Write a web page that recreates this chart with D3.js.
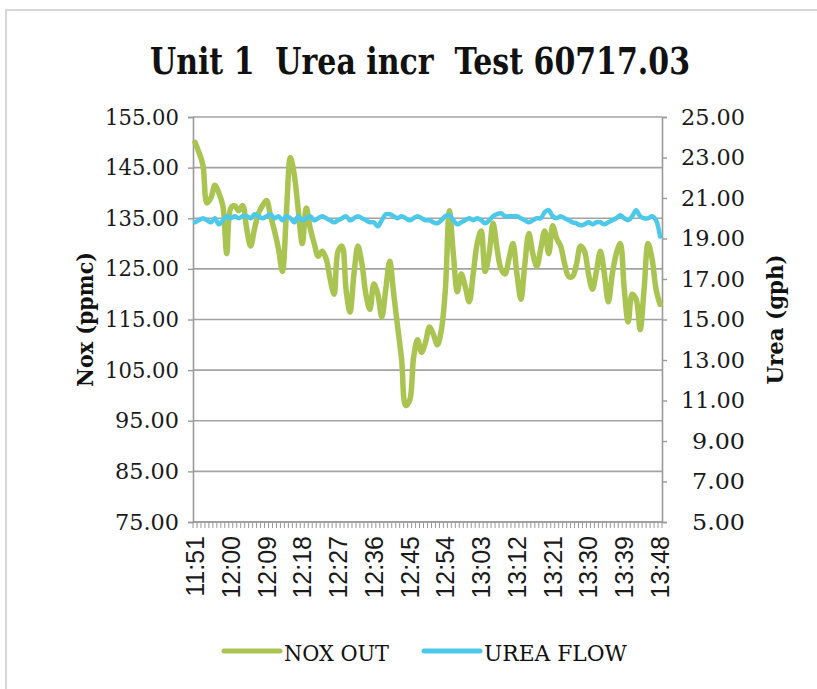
<!DOCTYPE html>
<html lang="en">
<head>
<meta charset="utf-8">
<title>Unit 1 Urea incr Test 60717.03</title>
<script src="https://cdn.jsdelivr.net/npm/d3@7"></script>
<style>
body{margin:0;background:#fff;}
</style>
</head>
<body>
<script>
// data, one point per minute 11:51 .. 13:48
var startMinute = 11*60+51;
var minutes = d3.range(118).map(function(i){
  var m = startMinute + i;
  return Math.floor(m/60) + ":" + d3.format("02d")(m%60);
});
var tickLabels = ["11:51","12:00","12:09","12:18","12:27","12:36","12:45","12:54","13:03","13:12","13:21","13:30","13:39","13:48"];
var leftTicks = [75,85,95,105,115,125,135,145,155];
var rightTicks = [5,7,9,11,13,15,17,19,21,23,25];

var noxOut = [150,148,145.5,138,139,141.5,140,137.5,128,137,
  137.5,136.5,137.5,133,129.5,133,136,137.5,138.5,135.5,
  132.5,129,124.5,136,147,143.5,136.5,130,137,133,
  130,127.5,128.5,127,123,120,128.5,129.5,121,116.5,
  124,129.5,126,120,117,122,120,115.5,121,126.5,
  120,113.5,107,98,99,107.5,111,108.5,110.5,113.5,
  112,110,113,121,136.5,128,120.5,124,121.5,118.5,
  124,130,132.5,124.5,128,134,129,125,124,127,
  130,124,119,126,132,128,125.5,129,132.5,128,
  133.5,131,129.5,126,123.5,123.5,126,129.5,128.5,124,
  121,124.5,128.5,124,118.5,124,128,130,121,114.5,
  120,119,113,121,130,127,121,118];

var ureaFlow = [19.8,19.9,20.0,19.9,19.8,20.0,19.7,19.9,20.1,20.0,
  20.1,20.0,20.1,20.1,20.0,20.2,20.1,20.0,20.1,20.2,
  20.0,20.1,19.9,20.1,20.0,19.8,20.1,19.9,20.0,20.1,
  19.9,20.0,20.1,20.0,19.9,19.8,19.9,20.0,20.1,19.9,
  20.0,20.1,20.0,19.9,19.8,19.8,19.6,19.9,20.2,20.2,
  20.1,20.0,20.1,20.0,19.9,20.0,20.1,20.0,19.9,19.9,
  19.8,19.75,19.9,20.1,20.15,19.9,19.7,19.8,19.9,20.0,
  19.9,20.0,19.9,19.75,19.9,20.1,20.2,20.25,20.1,20.1,
  20.1,20.1,20.0,19.9,19.8,19.9,20.0,20.0,20.3,20.4,
  20.1,20.0,20.1,20.0,19.9,19.8,19.75,19.65,19.7,19.8,
  19.7,19.8,19.8,19.7,19.8,19.9,20.0,20.15,20.0,19.9,
  20.1,20.4,20.1,20.0,20.0,20.1,19.9,19.1];

var W = 817, H = 689;
var pLeft = 193, pRight = 662, pTop = 117, pBottom = 522;

var svg = d3.select("body").append("svg")
  .attr("width", W)
  .attr("height", H);

// outer frame of the chart area
svg.append("rect")
  .attr("x", 6).attr("y", 10)
  .attr("width", 830).attr("height", 700)
  .attr("fill", "#fff")
  .attr("stroke", "#c9c9d3")
  .attr("stroke-width", 1.5);

var x = d3.scaleBand().domain(d3.range(minutes.length)).range([pLeft, pRight]);
var yL = d3.scaleLinear().domain([75,155]).range([pBottom, pTop]);
var yR = d3.scaleLinear().domain([5,25]).range([pBottom, pTop]);

// gridlines
svg.append("g")
  .selectAll("line")
  .data(leftTicks)
  .enter()
  .append("line")
  .attr("x1", pLeft).attr("x2", pRight)
  .attr("y1", function(d){ return yL(d); })
  .attr("y2", function(d){ return yL(d); })
  .attr("stroke", "#a3a3a3")
  .attr("stroke-width", 1.6);

// left axis
var gl = svg.append("g")
  .attr("transform", "translate(" + pLeft + ",0)")
  .call(d3.axisLeft(yL).tickValues(leftTicks).tickFormat(d3.format(".2f")).tickSize(5).tickPadding(9));

// right axis
var gr = svg.append("g")
  .attr("transform", "translate(" + pRight + ",0)")
  .call(d3.axisRight(yR).tickValues(rightTicks).tickFormat(d3.format(".2f")).tickSize(5).tickPadding(12));

[gl, gr].forEach(function(g){
  g.select(".domain").attr("stroke", "#9a9a9a").attr("stroke-width", 1.6);
  g.selectAll(".tick line").attr("stroke", "#9a9a9a").attr("stroke-width", 1.4);
  g.selectAll(".tick text")
    .attr("font-family", "DejaVu Serif, serif")
    .attr("font-size", "22px")
    .attr("textLength", function(){ return this.textContent.length == 6 ? 74 : (this.textContent.length == 5 ? 64 : 53); })
    .attr("lengthAdjust", "spacingAndGlyphs")
    .attr("fill", "#1a1a1a");
});
// right labels end-aligned like the reference
gr.selectAll(".tick text")
  .attr("text-anchor", "end")
  .attr("x", 83);

// bottom axis: minor tick between every minute
var gb = svg.append("g");
gb.append("line")
  .attr("x1", pLeft).attr("x2", pRight)
  .attr("y1", pBottom).attr("y2", pBottom)
  .attr("stroke", "#9a9a9a").attr("stroke-width", 1.6);
gb.selectAll("line.tk")
  .data(d3.range(minutes.length + 1))
  .enter()
  .append("line")
  .attr("class", "tk")
  .attr("x1", function(i){ return pLeft + i * x.step(); })
  .attr("x2", function(i){ return pLeft + i * x.step(); })
  .attr("y1", pBottom).attr("y2", pBottom + 6)
  .attr("stroke", "#9a9a9a").attr("stroke-width", 1);

gb.selectAll("text")
  .data(tickLabels)
  .enter()
  .append("text")
  .attr("transform", function(d){
    var i = minutes.indexOf(d);
    var cx = x(i) + x.bandwidth()/2;
    return "translate(" + (cx + 9) + "," + (pBottom + 14) + ") rotate(-90)";
  })
  .attr("text-anchor", "end")
  .attr("font-family", "Liberation Sans, Arial, sans-serif")
  .attr("font-size", "25px")
  .attr("fill", "#1a1a1a")
  .text(function(d){ return d; });

// lines
var lineL = d3.line()
  .x(function(d,i){ return x(i) + x.bandwidth()/2; })
  .y(function(d){ return yL(d); })
  .curve(d3.curveCatmullRom.alpha(0.5));
var lineR = d3.line()
  .x(function(d,i){ return x(i) + x.bandwidth()/2; })
  .y(function(d){ return yR(d); })
  .curve(d3.curveCatmullRom.alpha(0.5));

svg.append("path")
  .datum(noxOut)
  .attr("d", lineL)
  .attr("fill", "none")
  .attr("stroke", "#aac452")
  .attr("stroke-width", 5.5)
  .attr("stroke-linejoin", "round")
  .attr("stroke-linecap", "round");

svg.append("path")
  .datum(ureaFlow)
  .attr("d", lineR)
  .attr("fill", "none")
  .attr("stroke", "#4cc9ea")
  .attr("stroke-width", 4.5)
  .attr("stroke-linejoin", "round")
  .attr("stroke-linecap", "round");

// title
svg.append("text")
  .attr("x", (150+690)/2)
  .attr("y", 74)
  .attr("text-anchor", "middle")
  .attr("font-family", "DejaVu Serif, serif")
  .attr("font-weight", "bold")
  .attr("font-size", "37px")
  .attr("textLength", 540)
  .attr("lengthAdjust", "spacingAndGlyphs")
  .style("white-space", "pre")
  .attr("fill", "#111")
  .text("Unit 1  Urea incr  Test 60717.03");

// axis titles
svg.append("text")
  .attr("transform", "translate(93," + ((pTop+pBottom)/2) + ") rotate(-90)")
  .attr("text-anchor", "middle")
  .attr("font-family", "DejaVu Serif, serif")
  .attr("font-weight", "bold")
  .attr("font-size", "22px")
  .attr("textLength", 135)
  .attr("lengthAdjust", "spacingAndGlyphs")
  .attr("fill", "#111")
  .text("Nox (ppmc)");

svg.append("text")
  .attr("transform", "translate(783," + ((pTop+pBottom)/2) + ") rotate(-90)")
  .attr("text-anchor", "middle")
  .attr("font-family", "DejaVu Serif, serif")
  .attr("font-weight", "bold")
  .attr("font-size", "22px")
  .attr("textLength", 130)
  .attr("lengthAdjust", "spacingAndGlyphs")
  .attr("fill", "#111")
  .text("Urea (gph)");

// legend
var legend = [
  {name: "NOX OUT", color: "#aac452", x: 224, w: 105},
  {name: "UREA FLOW", color: "#4cc9ea", x: 424, w: 143}
];
var lg = svg.selectAll("g.lg")
  .data(legend)
  .enter()
  .append("g")
  .attr("class", "lg")
  .attr("transform", function(d){ return "translate(" + d.x + ",651)"; });
lg.append("line")
  .attr("x1", 0).attr("x2", 56)
  .attr("y1", 0).attr("y2", 0)
  .attr("stroke", function(d){ return d.color; })
  .attr("stroke-width", 5)
  .attr("stroke-linecap", "round");
lg.append("text")
  .attr("x", 60).attr("y", 10)
  .attr("font-family", "DejaVu Serif, serif")
  .attr("font-size", "22px")
  .attr("textLength", function(d){ return d.w; })
  .attr("lengthAdjust", "spacingAndGlyphs")
  .attr("fill", "#111")
  .text(function(d){ return d.name; });
</script>
</body>
</html>
